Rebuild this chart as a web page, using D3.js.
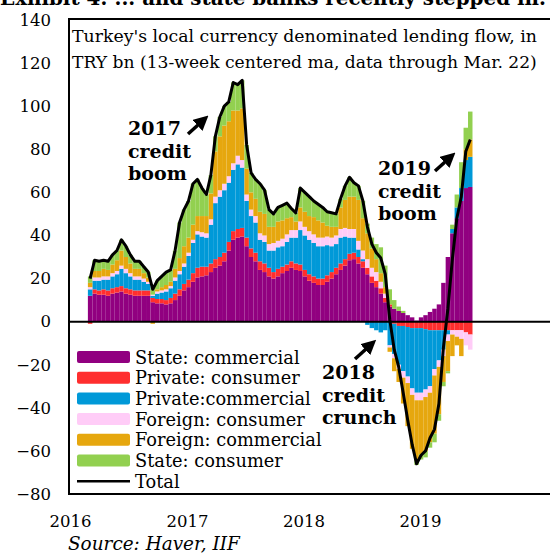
<!DOCTYPE html>
<html><head><meta charset="utf-8">
<script src="https://cdn.jsdelivr.net/npm/d3@7"></script>
<style>
body{margin:0;background:#fff}
svg{display:block}
text{font-family:"DejaVu Serif",serif;fill:#000}
</style>
</head><body>
<svg id="c" width="550" height="554"></svg>
<script>
// ---------- DATA (TRY bn, 13-week centered MA, bi-weekly readings) ----------
const firstDate = new Date(2016, 1, 26);
const stepDays = 14;
const seriesNames = ["State: commercial","Private: consumer","Private:commercial","Foreign: consumer","Foreign: commercial","State: consumer"];
const seriesColors = ["#910080","#FF2E2E","#0099D8","#FFCCF7","#E6A70E","#92D050"];
const stateCommercial = [12,13,12.5,12.5,12,13,13.5,14,13,12.5,12,12,12,12,9,8.5,8.5,8,8.5,10,12,14.5,16,18.5,20.5,21,21.5,23,25,26,28,33,38,39,39.5,35,30,28,24,23,21,20,21,22.5,23.5,25,24,23.5,21,19,18,17,17,18.5,20,22,24,26,28.5,29,27,25,22,18,16,13,9,7,6,5,4,3,2,0.5,2,3,4.5,6,8,18,30,41,48,56,62,62.5];
const privateConsumer = [-1,2,2,2.5,2.5,2.5,2.5,2.5,2.5,2.5,2.5,2.5,2.5,2.5,2,2,2,2,2.5,3,3,3,3.5,4,4.5,4.5,4,4,4,4,4,4,4,4,4,4,4,4,4,4,4,3,3.5,3,3,3,3,3,3,3,3,3,3,3,3,3,3,3,3,3,3,3,3,3,3,2.5,2,1,-1,-2,-2,-2.5,-3,-3,-3,-3.5,-4,-4,-4,-4,-4,-4,-4,-4,-5,-6];
const privateCommercial = [3,4,4.5,4.5,5,5.5,6,8,7,6,5,5,4,3,1,2.5,3,4,4.5,6,7,8,11,14,15.5,14,13.5,18,26,28,29,27.5,28.5,30,28,17,15,14,10,10,8,10,10,9.5,10.5,11,12,16,16,16,15.5,15,15,14,12,11,12,10.5,7.5,7,3.5,1,-1.5,-3,-4,-5,-4,-11,-14,-18,-21,-23,-28,-30,-30,-28,-26,-18,-14,-9,-2,2,5,6,13,14];
const foreignConsumer = [1,1.5,1.5,1.5,1.5,1.5,1.5,1.5,2,1.5,1.5,1.5,1.5,1,0.5,1,1,1,1,1.5,1.5,1.5,1.5,1.5,1.5,2,2,2.5,3,3,3,3,3,4,3.5,3,3,3,3,3,3,3.5,3,3.5,3.5,3.5,3.5,4,4,4,4,4,4,4,4,4,4,4,4,4,4,4,4,4,4,3,2,-1,-2,-2,-3,-3,-3,-3.5,-3.5,-3.5,-3,-3,-3,-3,-3,-2,-3,-4,-6,-7];
const foreignCommercial = [2,3,3,3.5,3,4,5,7,5.5,4.5,3.5,3.5,2.5,2,-1,1,1.5,2,2,4,6,8,7,7,7,7.5,8,12,21,25,27,25.5,24.5,21,24,12,8,8,10,10,8,7.5,9,8.5,7.5,6,4,6.5,7,7,8,8,7,5,5,4,10,13,15,15,19,15,12,9,6,4,3,-2,-6,-6,-12,-20,-25,-28,-25,-25,-23,-27,-22,-12,-14,-10,-4,-8,5,8];
const stateConsumer = [3,5,4.5,4,4,4.5,4.5,5,5,4,3.5,3.5,3,2.5,3.5,4,5,6,5.5,8.5,16.5,17,17,19,17,13,10,8.5,7,9,9,9,13,12,13,11,9,9,13,11,8,6,6.5,7,7,4,4,9,9,9,7.5,7.5,7,6.5,6.5,6,4,6.5,9,6.5,6.5,8,4.5,5,7,12,10,7,4,2,1,0,0,-2,-2.5,-3,-2.5,-4,-3,-2,-1,2,6,12,10,13];
const yTicks = [-80,-60,-40,-20,0,20,40,60,80,100,120,140];
const xTickYears = [2016,2017,2018,2019];
const titleLines = ["Turkey's local currency denominated lending flow, in","TRY bn (13-week centered ma, data through Mar. 22)"];
const annotations = [
  {lines:["2017","credit","boom"], x:128, y:135, arrow:[188,134,208,116]},
  {lines:["2019","credit","boom"], x:378, y:175, arrow:[435,171,455,153]},
  {lines:["2018","credit","crunch"], x:322, y:379, arrow:[355,359,376,340]}
];

// ---------- BUILD ----------
const svg = d3.select("#c");
const pL = 69, pR = 550, pT = 19, pB = 494;
const x = d3.scaleTime().domain([new Date(2016,0,1), new Date(2020,0,1)]).range([70, 536.7]);
const y = d3.scaleLinear().domain([-80,140]).range([494,20]);

const seriesArrays = [stateCommercial, privateConsumer, privateCommercial, foreignConsumer, foreignCommercial, stateConsumer];
const dates = d3.range(stateCommercial.length).map(i => d3.timeDay.offset(firstDate, stepDays*i));
const rows = dates.map((d,i) => {
  const r = {date:d};
  seriesNames.forEach((k,j) => r[k] = seriesArrays[j][i]);
  return r;
});
const stacked = d3.stack().keys(seriesNames).offset(d3.stackOffsetDiverging)(rows);
const bw = x(dates[1]) - x(dates[0]);

function fit(sel, w){
  const L = sel.node().getComputedTextLength();
  const fs = parseFloat(sel.attr("font-size"));
  sel.attr("font-size", fs*w/L);
}

// cut-off exhibit title at very top
const ex = svg.append("text").attr("x",0).attr("y",5).attr("font-weight","bold").attr("font-size",22)
  .text("Exhibit 4: ... and state banks recently stepped in.");
fit(ex, 546);

// bars
const gBars = svg.append("g");
stacked.forEach((s,j) => {
  gBars.append("g").attr("fill", seriesColors[j])
    .selectAll("rect").data(s).join("rect")
    .attr("x", d => x(d.data.date))
    .attr("width", bw)
    .attr("y", d => y(Math.max(d[0],d[1])))
    .attr("height", d => Math.abs(y(d[0]) - y(d[1])));
});

// frame + zero line
svg.append("path").attr("fill","none").attr("stroke","#000").attr("stroke-width",2)
  .attr("d", `M${pR},${pT}H${pL}V${pB}H${pR}`);
svg.append("line").attr("x1",pL).attr("x2",pR).attr("y1",y(0)).attr("y2",y(0))
  .attr("stroke","#000").attr("stroke-width",2);

// total line
const totals = rows.map((r,i) => ({date:r.date, v:d3.sum(seriesArrays, a => a[i])}));
svg.append("path").datum(totals).attr("fill","none").attr("stroke","#000").attr("stroke-width",3)
  .attr("stroke-linejoin","round")
  .attr("d", d3.line().x(d => x(d.date) + bw/2).y(d => y(d.v)));

// axes
const yAxis = svg.append("g").attr("transform",`translate(${pL},0)`)
  .call(d3.axisLeft(y).tickValues(yTicks).tickSize(0).tickPadding(18).tickFormat(d3.format("d")));
yAxis.select(".domain").remove();
yAxis.selectAll("text").attr("font-family","DejaVu Serif").attr("font-size",16.5).attr("fill","#000");

const xAxis = svg.append("g").attr("transform",`translate(0,${pB})`)
  .call(d3.axisBottom(x).tickValues(xTickYears.map(yr => new Date(yr,0,1))).tickSize(0).tickPadding(21).tickFormat(d3.timeFormat("%Y")));
xAxis.select(".domain").remove();
xAxis.selectAll("text").attr("font-family","DejaVu Serif").attr("font-size",16.5).attr("fill","#000");

// title inside plot
titleLines.forEach((t,i) => {
  const tx = svg.append("text").attr("x",72).attr("y",42 + i*26).attr("font-size",17).text(t);
  fit(tx, 465);
});

// legend
const legItems = seriesNames.map((n,i) => ({name:n, color:seriesColors[i]}));
legItems.forEach((it,i) => {
  const cy = 357 + i*20.7;
  svg.append("rect").attr("x",77).attr("y",cy-6).attr("width",53).attr("height",12).attr("rx",2).attr("fill",it.color);
  svg.append("text").attr("x",135).attr("y",cy+6.5).attr("font-size",17.8).text(it.name);
});
{
  const cy = 357 + 6*20.7;
  svg.append("line").attr("x1",77).attr("x2",130).attr("y1",cy).attr("y2",cy).attr("stroke","#000").attr("stroke-width",2.5);
  svg.append("text").attr("x",135).attr("y",cy+6.5).attr("font-size",17.8).text("Total");
}

// annotations
svg.append("defs").append("marker").attr("id","ah").attr("viewBox","0 0 10 10").attr("refX",5).attr("refY",5)
  .attr("markerWidth",4.2).attr("markerHeight",4.2).attr("orient","auto")
  .append("path").attr("d","M0,0L10,5L0,10z").attr("fill","#000");
annotations.forEach(a => {
  a.lines.forEach((l,i) => {
    svg.append("text").attr("x",a.x).attr("y",a.y + i*22.5).attr("font-weight","bold").attr("font-size",19).text(l);
  });
  const [x1,y1,x2,y2] = a.arrow;
  svg.append("line").attr("x1",x1).attr("y1",y1).attr("x2",x2-(x2-x1)*0.25).attr("y2",y2-(y2-y1)*0.25)
    .attr("stroke","#000").attr("stroke-width",3.5).attr("marker-end","url(#ah)");
});

// source
const src = svg.append("text").attr("x",68).attr("y",550).attr("font-style","italic").attr("font-size",17).text("Source: Haver, IIF");
fit(src, 172);
</script>
</body></html>
